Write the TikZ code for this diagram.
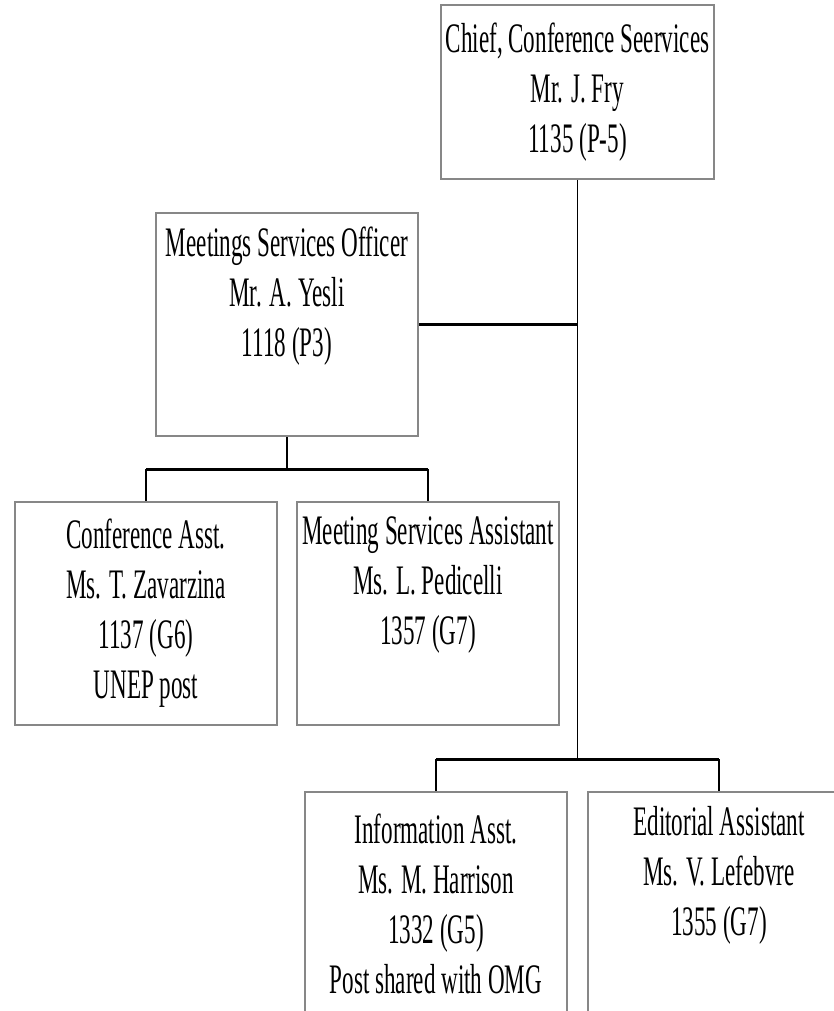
\documentclass[tikz,border=0pt]{standalone}
\usepackage{fontspec}
\setmainfont{Liberation Serif}[FakeStretch=0.55]
\definecolor{boxgray}{RGB}{135,135,135}
\tikzset{
  box/.style={draw=boxgray, line width=2pt, align=center, inner sep=0pt,
    minimum width=262pt, minimum height=223pt,
    font=\fontsize{42}{50}\selectfont},
  link/.style={line width=1.6pt, black},
  bar/.style={line width=3pt, black}
}
\begin{document}
\begin{tikzpicture}[x=1pt,y=-1pt]
\useasboundingbox (0,0) rectangle (834,1011);
\clip (0,0) rectangle (834,1011);
\node[box, minimum width=273pt, minimum height=174pt] (chief) at (577.5,92)
  {Chief, Conference Seervices\\Mr. J. Fry\\1135 (P-5)};
\node[box] (meet) at (287,324.5)
  {Meetings Services Officer\\Mr. A. Yesli\\1118 (P3)\\\strut};
\node[box] (conf) at (146,613.5)
  {Conference Asst.\\Ms. T. Zavarzina\\1137 (G6)\\UNEP post};
\node[box] (msa) at (428,613.5)
  {Meeting Services Assistant\\Ms. L. Pedicelli\\1357 (G7)\\\strut};
\node[box] (info) at (436,903.5)
  {Information Asst.\\Ms. M. Harrison\\1332 (G5)\\Post shared with OMG};
\node[box] (edit) at (719,903.5)
  {Editorial Assistant\\Ms. V. Lefebvre\\1355 (G7)\\\strut};
\coordinate (t1) at (577.5,324.5);
\coordinate (t2) at (577.5,759);
\coordinate (m1) at (287,469);
\draw[link] (chief.south) -- (t2);
\draw[bar] (meet.east) -- (t1);
\draw[link] (meet.south) -- (m1);
\draw[bar] (conf.north |- m1) -- (msa.north |- m1);
\draw[link] (conf.north |- m1) -- (conf.north);
\draw[link] (msa.north |- m1) -- (msa.north);
\draw[bar] (info.north |- t2) -- (edit.north |- t2);
\draw[link] (info.north |- t2) -- (info.north);
\draw[link] (edit.north |- t2) -- (edit.north);
\end{tikzpicture}
\end{document}
